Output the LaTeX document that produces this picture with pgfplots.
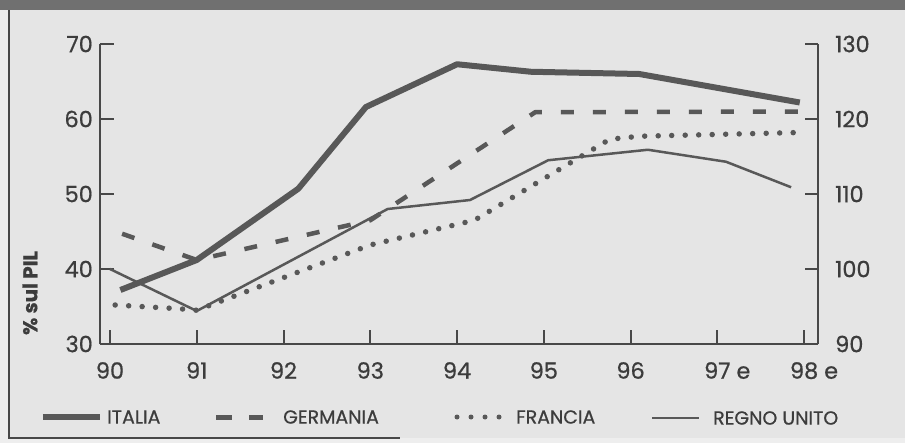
\documentclass[border=0pt]{standalone}
\usepackage{pgfplots}
\pgfplotsset{compat=1.18}
\usepackage{fontspec}
\setmainfont{Poppins}[FakeBold=0.7]
\definecolor{bg}{RGB}{229,229,229}
\definecolor{outer}{RGB}{238,238,238}
\definecolor{band}{RGB}{112,112,112}
\definecolor{ln}{RGB}{88,88,88}
\definecolor{ax}{RGB}{72,72,72}
\definecolor{txt}{RGB}{60,60,60}
\begin{document}
\begin{tikzpicture}
\path[use as bounding box, fill=outer] (-100bp,-99bp) rectangle (805bp,344bp);
\fill[bg] (-91bp,-94bp) rectangle (805bp,334bp);
\fill[band] (-100bp,334bp) rectangle (805bp,344bp);
\draw[ax, line width=1.5bp] (-91bp,334bp) -- (-91bp,-94bp) -- (300bp,-94bp);

\begin{axis}[
  at={(0,0)}, anchor=south west,
  scale only axis, width=718bp, height=300bp,
  xmin=89.885, xmax=98.16, ymin=30, ymax=70,
  axis x line=bottom, axis y line=left,
  axis line style={-, ax, line width=2bp},
  tick style={ax, line width=2bp},
  tick align=inside, major tick length=14bp,
  xtick={90,...,98},
  xticklabels={90,91,92,93,94,95,96,97\rlap{ e},98\rlap{ e}},
  ytick={30,40,50,60,70},
  tick label style={font=\fontsize{22.5}{22.5}\selectfont, text=txt, inner sep=0pt},
  xticklabel style={anchor=north, yshift=-18bp},
  yticklabel style={anchor=east, xshift=-7bp},
  /pgf/number format/assume math mode=true,
  ylabel={\% sul PIL},
  ylabel style={at={(axis description cs:-0.0975,0.17)}, anchor=center, font=\fontsize{20}{20}\selectfont\bfseries, text=txt},
  clip=false,
]
% ITALIA
\addplot[ln, line width=6bp, line join=round] coordinates {
  (90.12,37.2) (91,41.2) (92.17,50.7) (92.95,61.6) (94,67.3) (94.85,66.3) (96.1,66.0) (97.95,62.2)
};
% GERMANIA
\addplot[ln, line width=4.5bp, dash pattern=on 13bp off 19bp] coordinates {
  (90.14,44.7) (91,41.2) (93,46.5) (94.9,60.9) (97.95,61.0)
};
% FRANCIA
\addplot[ln, line width=5.5bp, line cap=round, dash pattern=on 0pt off 13.5bp] coordinates {
  (90.06,35.2) (90.8,34.7) (91,34.5) (93,43.2) (94.2,46.5) (95.76,57.3) (96.1,57.7) (97.95,58.2)
};
% REGNO UNITO
\addplot[ln, line width=2.5bp, line join=round] coordinates {
  (90,40.0) (91,34.4) (93.2,48.0) (94.15,49.2) (95.05,54.5) (96.2,55.9) (97.1,54.3) (97.85,50.9)
};
\end{axis}

\begin{axis}[
  at={(0,0)}, anchor=south west,
  scale only axis, width=718bp, height=300bp,
  xmin=89.885, xmax=98.16, ymin=90, ymax=130,
  axis x line=none, axis y line=right,
  axis line style={-, ax, line width=2bp},
  tick style={ax, line width=2bp},
  tick align=inside, major tick length=13bp,
  ytick={90,100,110,120,130},
  tick label style={font=\fontsize{22.5}{22.5}\selectfont, text=txt, inner sep=0pt},
  yticklabel style={anchor=west, xshift=17bp},
  /pgf/number format/assume math mode=true,
]
\end{axis}

% legend
\begin{scope}[font=\fontsize{19}{19}\selectfont, text=txt]
\draw[ln, line width=6bp] (-57bp,-73bp) -- (0bp,-73bp);
\node[anchor=west, inner sep=0pt] at (7bp,-73bp) {ITALIA};
\draw[ln, line width=5bp] (116bp,-73bp) -- (132bp,-73bp);
\draw[ln, line width=5bp] (149bp,-73bp) -- (163bp,-73bp);
\node[anchor=west, inner sep=0pt] at (183bp,-73bp) {GERMANIA};
\draw[ln, line width=5bp, line cap=round, dash pattern=on 0pt off 14bp] (357bp,-73bp) -- (400bp,-73bp);
\node[anchor=west, inner sep=0pt] at (416bp,-73bp) {FRANCIA};
\draw[ln, line width=2.5bp] (552bp,-74bp) -- (599bp,-74bp);
\node[anchor=west, inner sep=0pt] at (613bp,-74bp) {REGNO UNITO};
\end{scope}
\end{tikzpicture}
\end{document}
